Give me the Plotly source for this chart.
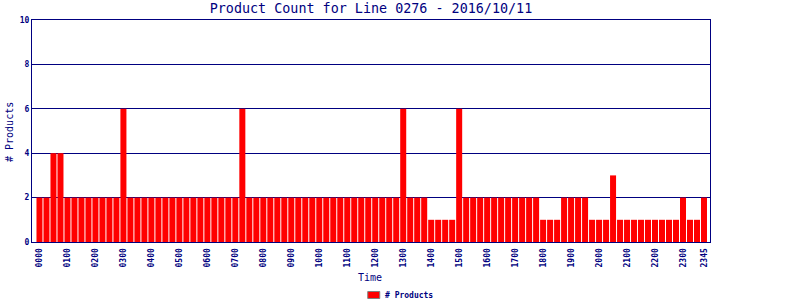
import plotly.graph_objects as go

# 96 quarter-hour slots
times = [f"{h:02d}{m:02d}" for h in range(24) for m in (0, 15, 30, 45)]
counts = (
    [2, 2, 4, 4] + [2] * 8 + [6] + [2] * 16 + [6] + [2] * 22 + [6] + [2] * 3
    + [1] * 4 + [6] + [2] * 11 + [1] * 3 + [2] * 4 + [1] * 3 + [3] + [1] * 9
    + [2] + [1, 1] + [2]
)
tick_idx = list(range(0, 96, 4)) + [95]
tick_text = [times[i] for i in tick_idx]
series_name = "# Products"

NAVY = "#000080"
MONO = "DejaVu Sans Mono"

L, R, T, B = 31.5, 90, 20, 58
W, H = 800, 300
PW, PH = W - L - R, H - T - B


def px_x(px):
    return (px - L) / PW


def px_y(py):
    return (H - B - py) / PH


fig = go.Figure(
    go.Bar(
        x=list(range(len(counts))),
        y=counts,
        name=series_name,
        marker=dict(color="#FF0000", line=dict(width=0)),
        width=0.86,
        hovertext=times,
    )
)

fig.update_layout(
    width=W,
    height=H,
    margin=dict(l=L, r=R, t=T, b=B, autoexpand=False),
    paper_bgcolor="white",
    plot_bgcolor="white",
    title=dict(
        text="Product Count for Line 0276 - 2016/10/11",
        font=dict(family=MONO, size=13.4, color=NAVY),
        x=0.5,
        xref="paper",
        xanchor="center",
        y=1 - 8.5 / 300,
        yref="container",
        yanchor="middle",
    ),
    showlegend=False,
    xaxis=dict(
        range=[-1.07, 95.86],
        tickmode="array",
        tickvals=tick_idx,
        ticktext=tick_text,
        tickangle=-90,
        tickfont=dict(family=MONO, size=8, color=NAVY, weight="bold"),
        ticklabelstandoff=2,
        showgrid=False,
        showline=True,
        linecolor=NAVY,
        linewidth=1,
        mirror=True,
        zeroline=False,
        automargin=False,
    ),
    yaxis=dict(
        range=[0, 10],
        tickvals=[0, 2, 4, 6, 8, 10],
        tickfont=dict(family=MONO, size=8, color=NAVY, weight="bold"),
        showgrid=True,
        gridcolor=NAVY,
        gridwidth=1,
        showline=True,
        linecolor=NAVY,
        linewidth=1,
        mirror=True,
        zeroline=False,
        ticks="",
        automargin=False,
    ),
    annotations=[
        dict(text="Time", x=px_x(370), y=px_y(277.5), xref="paper", yref="paper",
             xanchor="center", yanchor="middle", showarrow=False,
             font=dict(family=MONO, size=10, color=NAVY)),
        dict(text="# Products", x=px_x(8.5), y=px_y(132), xref="paper", yref="paper",
             xanchor="center", yanchor="middle", showarrow=False, textangle=-90,
             font=dict(family=MONO, size=10, color=NAVY)),
        dict(text=series_name, x=px_x(383), y=px_y(295), xref="paper", yref="paper",
             xanchor="left", yanchor="middle", showarrow=False,
             font=dict(family=MONO, size=8, color=NAVY, weight="bold")),
    ],
    shapes=[
        dict(type="rect", xref="paper", yref="paper",
             x0=px_x(367.5), x1=px_x(379.5), y0=px_y(298.5), y1=px_y(291.5),
             fillcolor="#FF0000", line=dict(color="#808080", width=1)),
    ],
)

fig.write_html("out.html")
